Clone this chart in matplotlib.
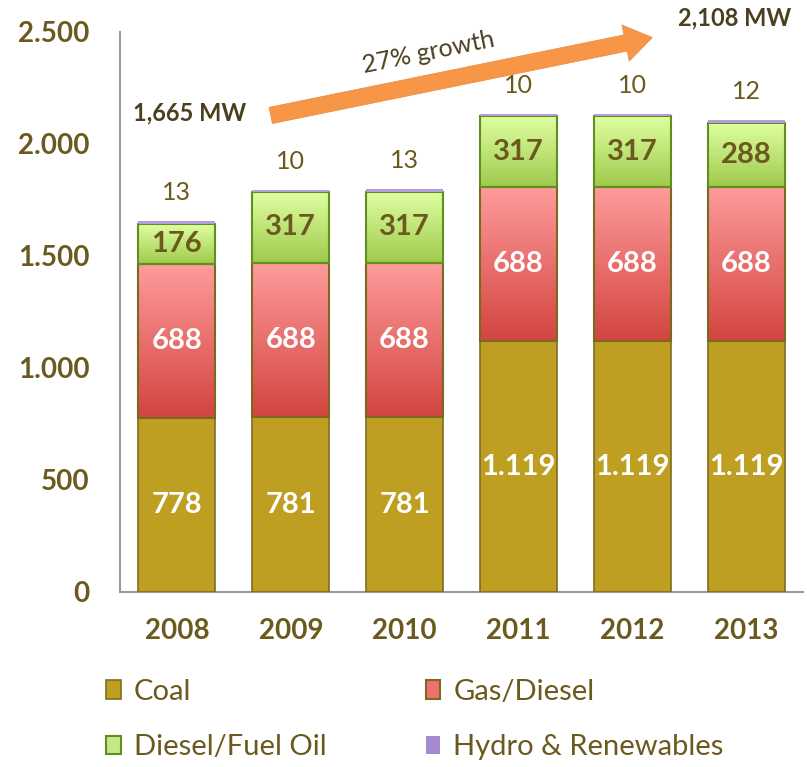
import matplotlib
matplotlib.use('Agg')
import matplotlib.pyplot as plt
import matplotlib.ticker as mticker
from matplotlib.patches import Rectangle, FancyArrowPatch
import numpy as np

plt.rcParams['font.family'] = ['Lato', 'DejaVu Sans']

years = ['2008', '2009', '2010', '2011', '2012', '2013']
coal = [778, 781, 781, 1119, 1119, 1119]
gas_diesel = [688, 688, 688, 688, 688, 688]
fuel_oil = [176, 317, 317, 317, 317, 288]
hydro = [13, 10, 13, 10, 10, 12]
yticks = [0, 500, 1000, 1500, 2000, 2500]

TXT = '#6b5a1e'
W, H = 807, 767

def fmt(v):
    # thousands with a dot, like the original
    return '{:,}'.format(v).replace(',', '.')

def gradient_fill(ax, bars, top_col, bot_col):
    # paint a vertical gradient inside each bar
    grad = np.linspace(0, 1, 256).reshape(-1, 1)
    cmap = matplotlib.colors.LinearSegmentedColormap.from_list('g', [bot_col, top_col])
    for b in bars:
        x0, y0 = b.get_x(), b.get_y()
        im = ax.imshow(grad, cmap=cmap, aspect='auto', origin='lower',
                       extent=(x0, x0 + b.get_width(), y0, y0 + b.get_height()),
                       zorder=b.get_zorder() - 0.1)
        im.set_clip_path(b)
        b.set_facecolor('none')

fig = plt.figure(figsize=(W / 100, H / 100), dpi=100)
ax = fig.add_axes([120 / W, (H - 592) / H, 683 / W, 560 / H])

x = np.arange(len(years))
bw = 0.675
b1 = ax.bar(x, coal, bw, color='#bf9f22', edgecolor='#7f6d1f', lw=1.2, zorder=3)
bot = np.array(coal)
b2 = ax.bar(x, gas_diesel, bw, bottom=bot, color='#f08080', edgecolor='#7a6a20', lw=1.5, zorder=3)
bot = bot + np.array(gas_diesel)
b3 = ax.bar(x, fuel_oil, bw, bottom=bot, color='#c6e68a', edgecolor='#5f8f1f', lw=1.5, zorder=3)
bot = bot + np.array(fuel_oil)
b4 = ax.bar(x, hydro, bw, bottom=bot, color='#b39ddb', edgecolor='none', zorder=3)

gradient_fill(ax, b2, '#ff9c9c', '#d2443f')
gradient_fill(ax, b3, '#e0ffa2', '#9fca4c')

# segment labels
for i in range(len(years)):
    ax.text(x[i], coal[i] / 2, fmt(coal[i]), ha='center', va='center',
            color='white', fontsize=21, fontweight='bold', zorder=5)
    ax.text(x[i], coal[i] + gas_diesel[i] / 2, fmt(gas_diesel[i]), ha='center', va='center',
            color='white', fontsize=21, fontweight='bold', zorder=5)
    ax.text(x[i], coal[i] + gas_diesel[i] + fuel_oil[i] / 2, fmt(fuel_oil[i]),
            ha='center', va='center', color=TXT, fontsize=21, fontweight='bold', zorder=5)
    ax.text(x[i], bot[i] + hydro[i] + 75, fmt(hydro[i]), ha='center', va='bottom',
            color=TXT, fontsize=18, zorder=5)

ax.set_xlim(-0.5, len(years) - 0.5)
ax.set_ylim(0, 2500)
ax.set_yticks(yticks)
ax.yaxis.set_major_formatter(mticker.FuncFormatter(lambda v, p: fmt(int(v))))
ax.set_xticks(x)
ax.set_xticklabels(years)
ax.tick_params(length=0, colors=TXT, labelsize=20)
ax.tick_params(axis='y', pad=22)
ax.tick_params(axis='x', pad=19)
for lab in ax.get_xticklabels() + ax.get_yticklabels():
    lab.set_fontweight('bold')
for s in ['top', 'right']:
    ax.spines[s].set_visible(False)
for s in ['left', 'bottom']:
    ax.spines[s].set_color('#9a9a9a')
    ax.spines[s].set_linewidth(1.5)
ax.set_facecolor('none')

# growth arrow and totals
fig.text(190 / W, 1 - 113 / H, '1,665 MW', ha='center', va='center',
         color='#4a4020', fontsize=17, fontweight='bold')
fig.text(735 / W, 1 - 18 / H, '2,108 MW', ha='center', va='center',
         color='#4a4020', fontsize=17, fontweight='bold')
arr = FancyArrowPatch((268 / W, 1 - 116 / H), (655 / W, 1 - 37 / H),
                      transform=fig.transFigure,
                      arrowstyle='simple,head_length=1.4,head_width=1.9,tail_width=0.85',
                      mutation_scale=14, color='#f79646', ec='#e9893a', lw=0.5)
fig.patches.append(arr)
fig.text(428 / W, 1 - 52 / H, '27% growth', ha='center', va='center',
         rotation=11.5, color='#4a4020', fontsize=18)

# legend
h_coal = Rectangle((0, 0), 1, 1, fc='#bf9f22', ec='#7f6d1f', lw=1.2)
h_gas = Rectangle((0, 0), 1, 1, fc='#ee7070', ec='#7a6a20', lw=1.5)
h_oil = Rectangle((0, 0), 1, 1, fc='#c6e68a', ec='#5f8f1f', lw=1.5)
h_hyd = Rectangle((0, 0), 1, 1, fc='#a68ad0', ec='none')
leg = fig.legend([h_coal, h_oil, h_gas, h_hyd],
                 ['Coal', 'Diesel/Fuel Oil', 'Gas/Diesel', 'Hydro & Renewables'],
                 ncol=2, loc='upper left', bbox_to_anchor=(106 / W, 1 - 679 / H),
                 frameon=False, fontsize=21, handlelength=0.5, handleheight=0.6,
                 handletextpad=0.45, columnspacing=3.4, labelspacing=1.0,
                 borderpad=0, borderaxespad=0)
for t in leg.get_texts():
    t.set_color(TXT)

fig.savefig('out.png', dpi=100)
